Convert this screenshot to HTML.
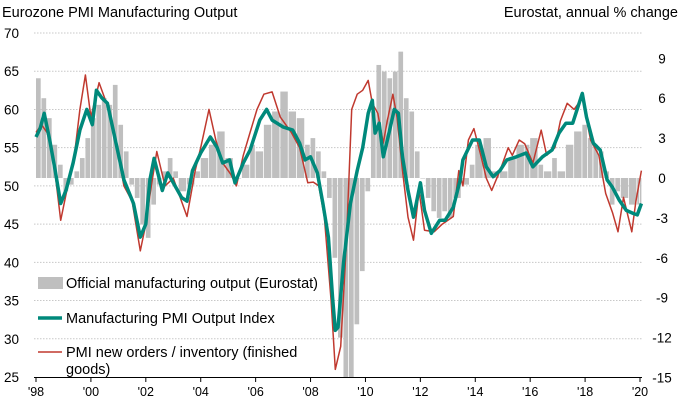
<!DOCTYPE html>
<html><head><meta charset="utf-8"><style>
body{margin:0;background:#fff;position:relative;width:680px;height:407px;overflow:hidden}
svg{display:block;font-family:"Liberation Sans",Arial,sans-serif;}
</style></head><body>
<svg id="c" width="680" height="407"></svg>
<script>
const barDates=[1998.0,1998.2,1998.4,1998.6,1998.8,1999.0,1999.2,1999.4,1999.6,1999.8,2000.0,2000.2,2000.4,2000.6,2000.8,2001.0,2001.2,2001.4,2001.6,2001.8,2002.0,2002.2,2002.4,2002.6,2002.8,2003.0,2003.2,2003.5,2003.8,2004.0,2004.3,2004.6,2004.9,2005.2,2005.5,2005.8,2006.0,2006.3,2006.6,2006.9,2007.2,2007.5,2007.8,2008.0,2008.2,2008.4,2008.6,2008.8,2009.0,2009.2,2009.4,2009.6,2009.8,2010.0,2010.2,2010.4,2010.6,2010.8,2011.0,2011.2,2011.4,2011.6,2011.8,2012.0,2012.2,2012.4,2012.6,2012.8,2013.0,2013.2,2013.5,2013.8,2014.0,2014.3,2014.6,2014.9,2015.2,2015.5,2015.8,2016.0,2016.3,2016.5,2016.8,2017.0,2017.3,2017.6,2017.9,2018.1,2018.3,2018.5,2018.7,2018.9,2019.1,2019.3,2019.6,2019.9,2020.0];
const barValues=[7.5,6,4.5,2.5,1,-1,-0.5,0.5,1.5,3,4.5,5.5,6,5.5,7,4,2,-0.5,-1.5,-3.5,-4.5,-2,-0.5,0.5,1.5,0.5,-1,-0.5,0.5,1.5,2.5,3.5,1.5,0,1,2.5,2,4,5,6.5,5,4.5,2.5,3,2,0.5,-1.5,-6,-12,-15,-15,-11,-7,-1,5,8.5,8,7.5,8,9.5,6,5,2,0,-1.5,-2.5,-3,-2.5,-3,-1.5,-0.5,1,2.5,3,0.5,0.5,1.5,2.5,2.5,3,1,0.5,1.5,0.5,2.5,3.5,4,3,2.5,2,0.5,-2,-1,-1.5,-2,-2,-2];
const pmiDates=[1998.0,1998.15,1998.3,1998.5,1998.7,1998.9,1999.1,1999.35,1999.6,1999.85,2000.05,2000.2,2000.4,2000.6,2000.95,2001.2,2001.55,2001.8,2002.0,2002.15,2002.3,2002.6,2002.8,2003.0,2003.3,2003.5,2003.7,2004.0,2004.35,2004.6,2004.8,2005.05,2005.25,2005.55,2005.8,2006.15,2006.4,2006.6,2007.0,2007.35,2007.6,2007.8,2008.0,2008.25,2008.45,2008.65,2008.8,2008.9,2009.0,2009.2,2009.45,2009.7,2009.9,2010.1,2010.25,2010.35,2010.5,2010.65,2010.8,2011.05,2011.2,2011.35,2011.55,2011.75,2012.0,2012.15,2012.4,2012.7,2012.9,2013.2,2013.45,2013.55,2013.9,2014.15,2014.4,2014.65,2014.9,2015.15,2015.5,2015.85,2016.1,2016.45,2016.8,2017.05,2017.3,2017.55,2017.9,2018.05,2018.3,2018.55,2018.8,2019.0,2019.25,2019.5,2019.75,2019.9,2020.05];
const pmiValues=[56.4,57.5,59.5,56,52,47.7,49.5,53,57.3,60,58,62.5,61.5,60.8,55,50.8,47.7,43.3,45,50.8,53.6,49.4,51.7,50.4,48.5,48,52,54.3,56.4,55,53,53.4,50.4,53,54.7,58.6,60,58.6,57.7,57.3,55.6,53.4,53.8,51.7,47.7,43.3,35.5,31.1,31.5,39.9,47.7,52,55,59.5,61.2,56.9,58.2,53.8,56,60,59.5,53.8,49.4,45.9,50.4,46.8,43.8,45.5,45.5,47.2,50.8,53.4,56,56,52.5,51.2,52,53.4,53.8,54.3,52.5,53.8,54.7,56.9,58.2,58.2,62.1,59,55.6,54.7,50.8,49.8,48.1,46.8,46.4,46.2,47.7];
const ordDates=[1998.0,1998.2,1998.4,1998.6,1998.9,1999.1,1999.4,1999.6,1999.8,2000.0,2000.3,2000.6,2000.9,2001.2,2001.5,2001.8,2002.0,2002.2,2002.4,2002.7,2003.0,2003.3,2003.5,2003.8,2004.0,2004.3,2004.55,2004.8,2005.1,2005.3,2005.55,2005.8,2006.05,2006.3,2006.6,2006.9,2007.3,2007.6,2007.9,2008.1,2008.3,2008.5,2008.75,2008.9,2009.1,2009.3,2009.5,2009.7,2009.9,2010.1,2010.25,2010.45,2010.65,2010.8,2011.0,2011.15,2011.35,2011.55,2011.75,2011.95,2012.15,2012.5,2012.8,2013.2,2013.4,2013.55,2013.75,2013.95,2014.2,2014.4,2014.6,2014.9,2015.2,2015.35,2015.6,2015.8,2016.1,2016.4,2016.6,2016.9,2017.1,2017.35,2017.6,2017.9,2018.2,2018.5,2018.75,2019.0,2019.2,2019.4,2019.7,2019.85,2020.05];
const ordValues=[57,58,57,54.5,45.5,49,54,60,64.5,59,63.5,60.5,56,50,48,41.5,45,50,54.5,50,51,48,46,52,55,60,56,53,51.5,50,54,57,60,62,62.3,59,57,55,50.4,50.5,50,46,35,26,29,42,60,62,62.5,63.8,60.8,59.5,55.6,58.6,62,59,52,45.9,42.9,49.4,44.2,44,45,46,52,50,56,57.5,54,51,49.4,52,55,54,56,55.5,53,57.3,54,55,58.5,60.8,60,61.5,56,54,49,46.5,44,48.5,44,48,52];
const yearTicks=["'98","'00","'02","'04","'06","'08","'10","'12","'14","'16","'18","'20"];
const leftTicks=[70,65,60,55,50,45,40,35,30,25];
const rightTicks=[9,6,3,0,-3,-6,-9,-12,-15];

const X0=36,X1=640,T0=1998,T1=2020;
const x=t=>X0+(t-T0)*(X1-X0)/(T1-T0);
const yL=v=>33+(70-v)*(377-33)/45;
const yR=v=>178-v*(377.5-178)/15;
const svg=document.getElementById('c');
const NS='http://www.w3.org/2000/svg';
function mk(tag,attrs,parent){const e=document.createElementNS(NS,tag);for(const k in attrs)e.setAttribute(k,attrs[k]);(parent||svg).appendChild(e);return e;}

leftTicks.forEach(v=>{if(v===25)return;const g=mk('line',{x1:X0-2,x2:X1+2,y1:yL(v),y2:yL(v),stroke:'#c8c8c8','stroke-dasharray':'1.5,1.5','stroke-width':1});

});
for(let i=0;i<barValues.length;i++){
  const t0=barDates[i],t1=i+1<barDates.length?barDates[i+1]:barDates[i]+0.08;
  const xa=x(t0),w=Math.max(1,x(t1)-xa-0.8);
  const v=barValues[i],ya=yR(Math.max(v,0)),yb=yR(Math.min(v,0));
  const b=mk('rect',{x:xa,y:ya,width:w,height:Math.max(0.5,yb-ya),fill:'#bfbfbf'});
  
  
}
function line(ds,vs,col,w,name){
  const d=ds.map((t,i)=>(i?'L':'M')+x(t).toFixed(1)+','+yL(vs[i]).toFixed(1)).join('');
  const p=mk('path',{d:d,fill:'none',stroke:col,'stroke-width':w,'stroke-linejoin':'round'});
  
  
}
line(ordDates,ordValues,'#c0392f',1.5,'new-orders-inventory-line');
line(pmiDates,pmiValues,'#00897b',3.5,'pmi-output-line');
const ax=mk('line',{x1:X0-2,x2:X1+2,y1:377.5,y2:377.5,stroke:'#000','stroke-width':1});


yearTicks.forEach((lab,i)=>{const t=1998+2*i;const xx=x(t);
 const tk=mk('line',{x1:xx,x2:xx,y1:377.5,y2:382,stroke:'#000'});
 
 
 const tx=mk('text',{x:xx,y:396,'text-anchor':'middle','font-size':12.5,fill:'#000'});tx.textContent=lab;
 
 });
leftTicks.forEach(v=>{const tx=mk('text',{x:4,y:yL(v)+5,'font-size':13.5,fill:'#000'});tx.textContent=v;
 
 });
rightTicks.forEach(v=>{const tx=mk('text',{x:662,y:yR(v)+5,'text-anchor':'middle','font-size':13.5,fill:'#000'});tx.textContent=v;
 
 });
</script>
<svg width="680" height="407" style="position:absolute;left:0;top:0">
<text x="2" y="17" font-size="14.5" font-family="Liberation Sans, sans-serif">Eurozone PMI Manufacturing Output</text>
<text x="678" y="17" font-size="14.5" text-anchor="end" font-family="Liberation Sans, sans-serif">Eurostat, annual % change</text>
<rect x="38" y="277" width="25" height="12" fill="#bfbfbf"/>
<text x="66" y="288" font-size="14.5" font-family="Liberation Sans, sans-serif">Official manufacturing output (Eurostat)</text>
<line x1="38" x2="62" y1="318" y2="318" stroke="#00897b" stroke-width="3.5"/>
<text x="66" y="323" font-size="14.5" font-family="Liberation Sans, sans-serif">Manufacturing PMI Output Index</text>
<line x1="38" x2="62" y1="352" y2="352" stroke="#c0392f" stroke-width="1.5"/>
<text font-size="14.5" font-family="Liberation Sans, sans-serif"><tspan x="66" y="357">PMI new orders / inventory (finished</tspan><tspan x="66" y="374">goods)</tspan></text>
</svg>
</body></html>
